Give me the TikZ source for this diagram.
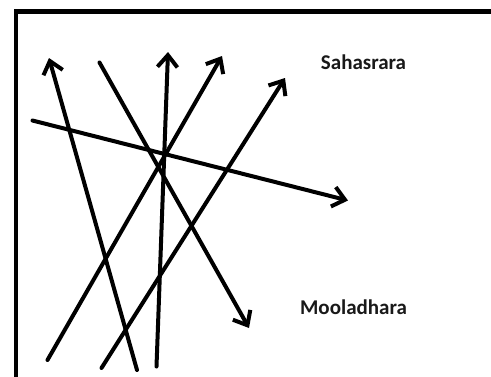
\documentclass[tikz,border=0pt]{standalone}
\usepackage{fontspec}
\setmainfont{Carlito}
\usetikzlibrary{arrows.meta}
\begin{document}
\begin{tikzpicture}[x=1pt,y=-1pt,
  stroke/.style={line width=4pt,line cap=round},
  arr/.style={stroke,-{Straight Barb[length=12pt,width=20pt,line width=4pt]}},
  lbl/.style={font=\bfseries\fontsize{21}{25}\selectfont,inner sep=0pt,text=black!90}]
\useasboundingbox (0,0) rectangle (491,376);
\fill[white] (0,0) rectangle (491,376);
% frame
\coordinate (fb) at (16,380);
\coordinate (fc) at (16,11.5);
\coordinate (fr) at (495,11.5);
\draw[line width=4.6pt] (fb) -- (fc) -- (fr);
% end points
\coordinate (a1) at (137,370);   \coordinate (a2) at (49,58);
\coordinate (b1) at (99.5,62.5); \coordinate (b2) at (249,328);
\coordinate (c1) at (156.5,366.5); \coordinate (c2) at (168,52);
\coordinate (d1) at (47.5,360);  \coordinate (d2) at (222,56);
\coordinate (e1) at (101.5,368); \coordinate (e2) at (285,78);
\coordinate (f1) at (32.5,120.5); \coordinate (f2) at (348,200.5);
\draw[arr] (a1) -- (a2);
\draw[arr] (b1) -- (b2);
\draw[arr] (c1) -- (c2);
\draw[arr] (d1) -- (d2);
\draw[arr] (e1) -- (e2);
\draw[arr] (f1) -- (f2);
\node[lbl] (sah) at (363.5,62) {Sahasrara};
\node[lbl] (moo) at (353.5,307.5) {Mooladhara};
\end{tikzpicture}
\end{document}
